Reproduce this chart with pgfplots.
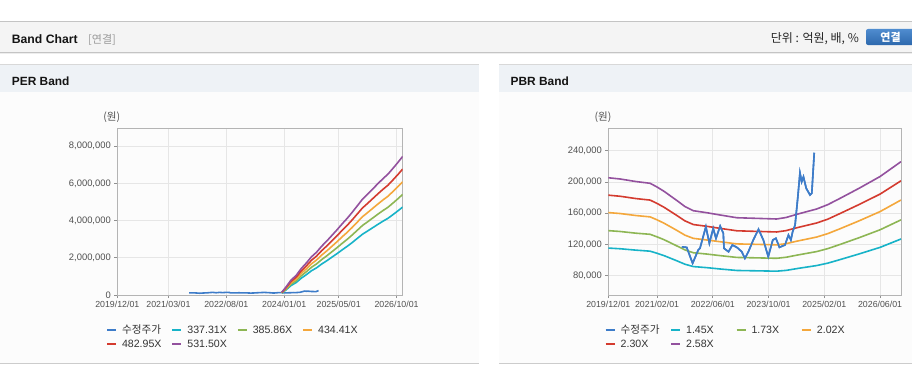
\documentclass[border=0pt]{standalone}
\usepackage{fontspec}
\setmainfont{Liberation Sans}
\newfontfamily\kr{Noto Sans CJK KR}
\usepackage{pgfplots}
\usepackage{pgfplotstable}
\pgfplotsset{compat=1.18}
\newcommand{\fs}[1]{\fontsize{#1bp}{#1bp}\selectfont}
\definecolor{cprice}{HTML}{3D7CC9}
\definecolor{ccyan}{HTML}{17B3C8}
\definecolor{cgreen}{HTML}{8DB654}
\definecolor{corange}{HTML}{F4A73B}
\definecolor{cred}{HTML}{D43B2F}
\definecolor{cpurple}{HTML}{93519E}
\definecolor{hdr}{HTML}{F4F4F4}
\definecolor{hdrline}{HTML}{C4C4C4}
\definecolor{panelhdr}{HTML}{EEF2F6}
\definecolor{panelline}{HTML}{D8D8D8}
\definecolor{bodybg}{HTML}{FCFCFC}
\definecolor{axisgray}{HTML}{B4B4B4}
\definecolor{gridgray}{HTML}{E6E6E6}
\definecolor{tickgray}{HTML}{909090}
\definecolor{labelgray}{HTML}{505050}
\definecolor{legendtext}{HTML}{333333}
\definecolor{btntop}{HTML}{4F8CCF}
\definecolor{btnbot}{HTML}{2D68AD}

% PER band: month index since 2019/12, values in KRW
\pgfplotstableread{
m     cy      gr      or      rd      pu
48.3  95000   109000  123000  136000  150000
49.5  267000  305000  343000  382000  420000
51.0  508000  581000  654000  727000  800000
52.5  666000  762000  858000  954000  1050000
54.0  901000  1031000 1161000 1290000 1420000
55.5  1092000 1249000 1406000 1563000 1720000
57.0  1301000 1488000 1675000 1863000 2050000
58.5  1460000 1670000 1880000 2090000 2300000
60.0  1663000 1902000 2141000 2381000 2620000
61.5  1840000 2105000 2370000 2635000 2900000
63.0  2031000 2323000 2615000 2908000 3200000
64.5  2221000 2541000 2861000 3180000 3500000
66.0  2424000 2773000 3122000 3471000 3820000
67.5  2615000 2991000 3367000 3744000 4120000
69.0  2824000 3231000 3637000 4044000 4450000
70.5  3046000 3485000 3923000 4362000 4800000
72.0  3268000 3739000 4209000 4680000 5150000
73.5  3440000 3935000 4430000 4925000 5420000
75.0  3617000 4138000 4659000 5180000 5700000
76.5  3795000 4341000 4887000 5434000 5980000
78.0  3966000 4538000 5108000 5679000 6250000
79.5  4125000 4719000 5312000 5907000 6500000
81.0  4328000 4951000 5574000 6197000 6820000
82.5  4537000 5191000 5844000 6497000 7150000
83.8  4728000 5409000 6089000 6770000 7450000
}\perband

% PBR band
\pgfplotstableread{
m     cy      gr      or      rd      pu
0     115400  137700  160800  183100  205400
3.4   114500  136600  159600  181700  203800
8     112700  134400  157000  178700  200500
12    111400  133000  155300  176800  198300
14    108700  129700  151500  172500  193500
16    105700  126100  147200  167600  188000
19.6  99200   118300  138200  157300  176500
22    94700   113000  131900  150200  168500
24.4  91700   109400  127800  145500  163200
28.3  90300   107700  125700  143200  160600
32.1  88600   105700  123500  140600  157700
36.9  86700   103400  120700  137500  154200
42    86300   102900  120200  136800  153500
48.3  85800   102300  119500  136000  152600
51    86800   103600  121000  137700  154500
54.1  89100   106300  124200  141400  158600
59.8  93000   110900  129500  147500  165400
63    96100   114700  133900  152400  171000
66.5  100600  120000  140100  159600  179000
72    107900  128700  150300  171200  192000
78    116300  138800  162100  184500  207000
84    127000  151500  176900  201500  226000
}\pbrband

% adjusted price
\pgfplotstableread{
m     p
21.1  117000
22.5  116200
24.2  95900
25.8  112900
26.3  115000
28.0  142700
29.0  121500
30.1  140600
30.9  127800
32.1  143600
33.0  134300
33.2  115000
34.5  110700
35.6  119300
36.9  116300
38.3  110700
39.2  102200
40.2  110700
41.6  125700
43.1  139400
44.5  125700
45.9  104400
47.2  125700
48.1  127900
49.1  116300
50.7  119300
51.7  132100
52.4  125700
52.9  136300
53.6  144900
54.4  181100
55.0  211800
55.5  200300
56.0  206700
56.8  191900
57.9  183300
58.4  185500
59.1  237400
}\price

\pgfplotsset{bandaxis/.style={
  scale only axis, anchor=south west, height=166.7bp,
  scaled y ticks=false, scaled x ticks=false,
  axis line style={draw=axisgray, line width=0.8bp},
  grid=major, major grid style={draw=gridgray, line width=0.8bp},
  tick align=outside, tick pos=left, major tick length=3bp,
  tick style={draw=tickgray, line width=0.8bp},
  xticklabel style={font=\fs{8.8}, text=labelgray},
  yticklabel style={font=\fs{9.4}, text=labelgray},
  /pgf/number format/assume math mode=true,
  legend columns=4,
  legend style={draw=none, fill=none, inner sep=0pt, outer sep=0pt,
    anchor=north west, font=\fs{10.6}, text=legendtext,
    /tikz/every odd column/.append style={column sep=5bp},
    nodes={inner sep=0pt, text width=49.4bp, text height=7.5bp, text depth=2.5bp},
    cells={anchor=west}, row sep=4bp},
  legend image code/.code={\draw[##1, line width=2bp] (0bp,1.3bp) -- (9bp,1.3bp);},
  every axis plot/.append style={line width=1.6bp, mark=none},
}}

\begin{document}
\begin{tikzpicture}[x=1bp,y=1bp]
\useasboundingbox (0,0) rectangle (912,364);
\fill[white] (0,0) rectangle (912,364);
% top header
\fill[hdr] (0,311.3) rectangle (912,342.3);
\draw[hdrline, line width=1bp] (0,342.3) -- (912,342.3);
\draw[hdrline, line width=1bp] (0,311.3) -- (912,311.3);
\draw[black!7, line width=1bp] (0,310.3) -- (912,310.3);
\node[anchor=base west, inner sep=0pt, font=\fs{12.2}\bfseries, text=black!92] at (11.7,321) {Band Chart};
\node[anchor=base west, inner sep=0pt, font=\kr\fs{11}, text=black!40] at (88,321) {[연결]};
\node[anchor=base east, inner sep=0pt, font=\kr\fs{12}, text=black!85] at (859,322) {단위 : 억원, 배, \%};
\shade[top color=btntop, bottom color=btnbot, rounded corners=2bp] (866,319) rectangle (916,335);
\node[font=\kr\fs{11}\bfseries, text=white] at (890.5,327) {연결};
% panels
\foreach \xa/\xb in {0/479,499/912}{
  \fill[bodybg] (\xa,1.3) rectangle (\xb,272);
  \fill[panelhdr] (\xa,272) rectangle (\xb,299.7);
  \draw[panelline, line width=1bp] (\xa,299.7) -- (\xb,299.7);
  \draw[black!20, line width=1.4bp] (\xa,0.7) -- (\xb,0.7);
}
\node[anchor=base west, inner sep=0pt, font=\fs{11.9}\bfseries, text=black!92] at (11.7,278.7) {PER Band};
\node[anchor=base west, inner sep=0pt, font=\fs{11.9}\bfseries, text=black!92] at (510.5,278.7) {PBR Band};
\node[font=\kr\fs{10.5}, text=labelgray] at (111.7,246.7) {(원)};
\node[font=\kr\fs{10.5}, text=labelgray] at (603,246.7) {(원)};

% PER axis
\begin{axis}[bandaxis, at={(117.3bp,69bp)}, width=285.4bp,
  xmin=0, xmax=83.8, ymin=0, ymax=8960000,
  xtick={0,15,32,49,65,82},
  xticklabels={2019/12/01,2021/03/01,2022/08/01,2024/01/01,2025/05/01,2026/10/01},
  ytick={0,2000000,4000000,6000000,8000000},
  yticklabels={0,{2,000,000},{4,000,000},{6,000,000},{8,000,000}},
  legend style={at={(axis description cs:-0.0396,-0.1878)}}]
\addplot[cprice] table[x=m,y=p] {\price};
\addlegendentry{{\kr 수정주가}}
\addplot[ccyan] table[x=m,y=cy] {\perband};
\addlegendentry{337.31X}
\addplot[cgreen] table[x=m,y=gr] {\perband};
\addlegendentry{385.86X}
\addplot[corange] table[x=m,y=or] {\perband};
\addlegendentry{434.41X}
\addplot[cred] table[x=m,y=rd] {\perband};
\addlegendentry{482.95X}
\addplot[cpurple] table[x=m,y=pu] {\perband};
\addlegendentry{531.50X}
\end{axis}

% PBR axis
\begin{axis}[bandaxis, at={(608.3bp,69bp)}, width=292.7bp,
  xmin=0, xmax=84, ymin=55300, ymax=268700,
  xtick={0,14,30,46,62,78},
  xticklabels={2019/12/01,2021/02/01,2022/06/01,2023/10/01,2025/02/01,2026/06/01},
  ytick={80000,120000,160000,200000,240000},
  yticklabels={{80,000},{120,000},{160,000},{200,000},{240,000}},
  legend style={at={(axis description cs:-0.0123,-0.1878)}}]
\addplot[cprice] table[x=m,y=p] {\price};
\addlegendentry{{\kr 수정주가}}
\addplot[ccyan] table[x=m,y=cy] {\pbrband};
\addlegendentry{1.45X}
\addplot[cgreen] table[x=m,y=gr] {\pbrband};
\addlegendentry{1.73X}
\addplot[corange] table[x=m,y=or] {\pbrband};
\addlegendentry{2.02X}
\addplot[cred] table[x=m,y=rd] {\pbrband};
\addlegendentry{2.30X}
\addplot[cpurple] table[x=m,y=pu] {\pbrband};
\addlegendentry{2.58X}
\addplot[cprice, forget plot] table[x=m,y=p] {\price};
\end{axis}
\end{tikzpicture}
\end{document}
